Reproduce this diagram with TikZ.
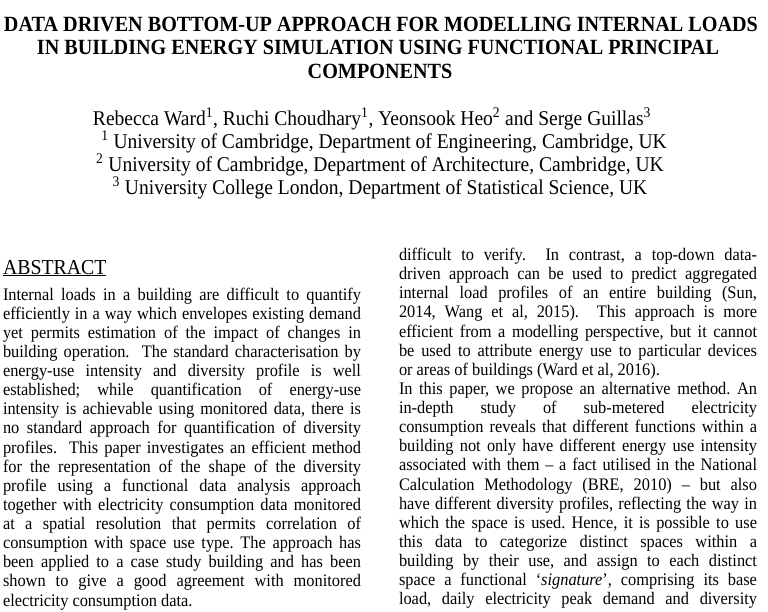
\documentclass[tikz,border=0pt]{standalone}
\usepackage{fontspec}
\setmainfont[FakeStretch=0.93]{Liberation Serif}

\begin{document}
\frenchspacing
\begin{tikzpicture}
  [x=1pt,y=-1pt,every node/.style={inner sep=0pt,outer sep=0pt},
   titleline/.style={anchor=base,font=\bfseries\fontsize{21.7}{24}\selectfont},
   authline/.style={anchor=base,font=\fontsize{21}{24}\selectfont},
   bodyline/.style={anchor=base west,font=\fontsize{17.6}{19}\selectfont}]
  \useasboundingbox (0,0) rectangle (768,611);
  \node[titleline] (t1) at (381,31) {DATA DRIVEN BOTTOM-UP APPROACH FOR MODELLING INTERNAL LOADS};
  \node[titleline] (t2) at (378,54.5) {IN BUILDING ENERGY SIMULATION USING FUNCTIONAL PRINCIPAL};
  \node[titleline] (t3) at (380,78) {COMPONENTS};

  \node[authline] (a0) at (372,125) {Rebecca Ward\textsuperscript{1}, Ruchi Choudhary\textsuperscript{1}, Yeonsook Heo\textsuperscript{2} and Serge Guillas\textsuperscript{3}};
  \node[authline] (a1) at (384,148) {\textsuperscript{1} University of Cambridge, Department of Engineering, Cambridge, UK};
  \node[authline] (a2) at (380,171) {\textsuperscript{2} University of Cambridge, Department of Architecture, Cambridge, UK};
  \node[authline] (a3) at (380,194) {\textsuperscript{3} University College London, Department of Statistical Science, UK};

  \node[anchor=base west,font=\fontsize{21.3}{24}\selectfont] (abs) at (3,274) {\underline{ABSTRACT}};

  % left column
  \foreach \t [count=\i] in {
    {Internal loads in a building are difficult to quantify},
    {efficiently in a way which envelopes existing demand},
    {yet permits estimation of the impact of changes in},
    {building operation.\ \ The standard characterisation by},
    {energy-use intensity and diversity profile is well},
    {established; while quantification of energy-use},
    {intensity is achievable using monitored data, there is},
    {no standard approach for quantification of diversity},
    {profiles.\ \ This paper investigates an efficient method},
    {for the representation of the shape of the diversity},
    {profile using a functional data analysis approach},
    {together with electricity consumption data monitored},
    {at a spatial resolution that permits correlation of},
    {consumption with space use type. The approach has},
    {been applied to a case study building and has been},
    {shown to give a good agreement with monitored},
    {electricity consumption data.\hfill}}
    \node[bodyline] (l\i) at (3,{300+(\i-1)*19.13}) {\makebox[358pt][s]{\t}};

  % right column
  \foreach \t [count=\i] in {
    {difficult to verify.\ \ In contrast, a top-down data-},
    {driven approach can be used to predict aggregated},
    {internal load profiles of an entire building (Sun,},
    {2014, Wang et al, 2015).\ \ This approach is more},
    {efficient from a modelling perspective, but it cannot},
    {be used to attribute energy use to particular devices},
    {or areas of buildings (Ward et al, 2016).\hfill},
    {In this paper, we propose an alternative method. An},
    {in-depth study of sub-metered electricity},
    {consumption reveals that different functions within a},
    {building not only have different energy use intensity},
    {associated with them -- a fact utilised in the National},
    {Calculation Methodology (BRE, 2010) -- but also},
    {have different diversity profiles, reflecting the way in},
    {which the space is used. Hence, it is possible to use},
    {this data to categorize distinct spaces within a},
    {building by their use, and assign to each distinct},
    {space a functional `\textit{signature}', comprising its base},
    {load, daily electricity peak demand and diversity}}
    \node[bodyline] (r\i) at (399,{260.5+(\i-1)*19.13}) {\makebox[358pt][s]{\t}};
\end{tikzpicture}
\end{document}
